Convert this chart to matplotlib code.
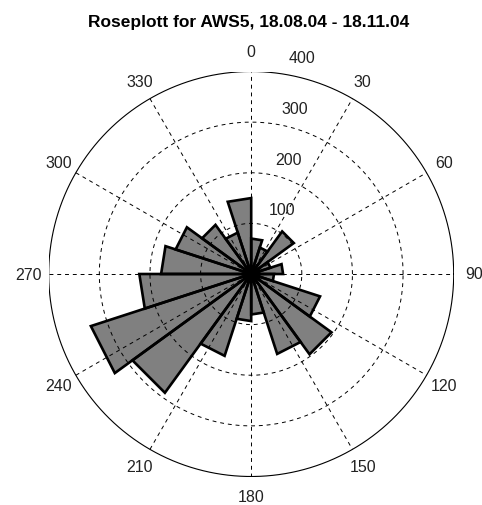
import numpy as np
import matplotlib
matplotlib.use('Agg')
import matplotlib.pyplot as plt

plt.rcParams['font.family'] = ['Liberation Sans', 'DejaVu Sans']

# wind direction bins (degrees, clockwise from north), 18 deg wide
bin_start = list(range(0, 360, 18))
counts = [70, 55, 104, 40, 63, 45, 143, 196, 166, 80,
          93, 170, 290, 333, 221, 178, 157, 120, 86, 150]

r_ticks = [100, 200, 300, 400]
theta_ticks = list(range(0, 360, 30))
title = 'Roseplott for AWS5, 18.08.04 - 18.11.04'

rmax = 400
bin_width = 18

fig = plt.figure(figsize=(4.82, 5.06), dpi=100)
ax = fig.add_axes([48.7 / 482, 28.5 / 506, 405 / 482, 405 / 506])
ax.set_xlim(-rmax, rmax)
ax.set_ylim(-rmax, rmax)
ax.axis('off')

# rose wedges (triangles like matlab's rose)
for start, c in zip(bin_start, counts):
    a = np.deg2rad([start, start + bin_width])
    xs = [0, c * np.sin(a[0]), c * np.sin(a[1]), 0]
    ys = [0, c * np.cos(a[0]), c * np.cos(a[1]), 0]
    ax.fill(xs, ys, color='#808080', lw=0, zorder=1)
    ax.plot(xs, ys, color='black', lw=1.9, solid_joinstyle='miter', zorder=3)

# grid
t = np.linspace(0, 2 * np.pi, 400)
for r in r_ticks[:-1]:
    ax.plot(r * np.cos(t), r * np.sin(t), color='black', lw=0.7,
            ls=(0, (4, 4)), zorder=2)
ax.plot(rmax * np.cos(t), rmax * np.sin(t), color='black', lw=0.8, zorder=2)
for th in theta_ticks[:6]:
    a = np.deg2rad(th)
    ax.plot([-rmax * np.sin(a), rmax * np.sin(a)],
            [-rmax * np.cos(a), rmax * np.cos(a)],
            color='black', lw=0.7, ls=(0, (4, 4)), zorder=2)

# labels
for th in theta_ticks:
    a = np.deg2rad(th)
    ax.text(1.1 * rmax * np.sin(a), 1.1 * rmax * np.cos(a), str(th),
            ha='center', va='center', fontsize=11.5, color='#222222',
            clip_on=False)
for r in r_ticks:
    ax.text(0.125 * r + 23, r + 27, str(r), ha='left', va='center',
            fontsize=11.5, color='#222222', clip_on=False)

fig.text(249 / 482, 1 - 22 / 506, title, ha='center', va='center',
         fontsize=12.5, fontweight='bold')

plt.savefig('out.png', dpi=100)
